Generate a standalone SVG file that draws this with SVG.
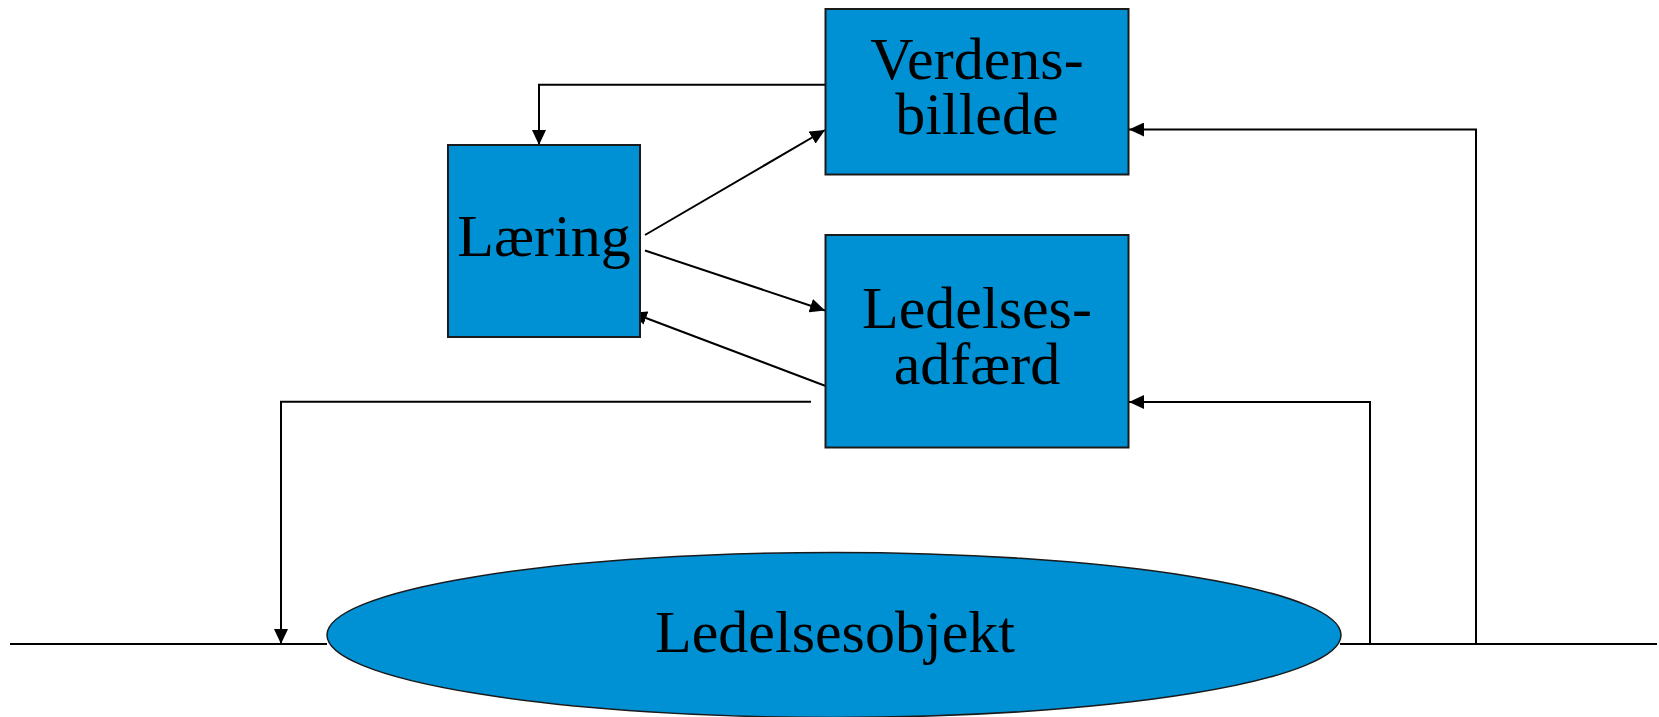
<svg xmlns="http://www.w3.org/2000/svg" width="1659" height="717" viewBox="0 0 1659 717">
<style>
.box{fill:#0091D5;stroke:#1a1a1a;stroke-width:2}
.lbl{font-family:"Liberation Serif","Times New Roman",serif;font-size:60px;fill:#000;text-anchor:middle}
.conn{fill:none;stroke:#000;stroke-width:2}
</style>
<defs>
<marker id="arr" viewBox="0 0 15 14" refX="15" refY="7" markerWidth="15" markerHeight="14" markerUnits="userSpaceOnUse" orient="auto">
<path d="M0,0 L15,7 L0,14 Z" fill="#000"/>
</marker>
</defs>
<rect width="1659" height="717" fill="#fff"/>
<g id="connectors">
<path class="conn" d="M825,84.7 H539 V145" marker-end="url(#arr)"/>
<path class="conn" d="M645,235 L825,130" marker-end="url(#arr)"/>
<path class="conn" d="M645,250.5 L825,310.5" marker-end="url(#arr)"/>
<path class="conn" d="M825,385.7 L632,312.7" marker-end="url(#arr)"/>
<path class="conn" d="M811,401.7 H281 V644" marker-end="url(#arr)"/>
<path class="conn" d="M10,644 H327"/>
<path class="conn" d="M1340,644 H1657"/>
<path class="conn" d="M1370,644 V402 H1129" marker-end="url(#arr)"/>
<path class="conn" d="M1476,644 V129.5 H1129" marker-end="url(#arr)"/>
</g>
<g id="verdensbillede">
<rect class="box" x="825.5" y="9" width="303" height="165.5"/>
<text class="lbl" x="977" y="79">Verdens-</text>
<text class="lbl" x="977" y="134">billede</text>
</g>
<g id="laering">
<rect class="box" x="448" y="145" width="192" height="192"/>
<text class="lbl" x="544" y="256">Læring</text>
</g>
<g id="ledelsesadfaerd">
<rect class="box" x="825.5" y="235" width="303" height="212.5"/>
<text class="lbl" x="977" y="328">Ledelses-</text>
<text class="lbl" x="977" y="384">adfærd</text>
</g>
<g id="ledelsesobjekt">
<ellipse class="box" cx="834" cy="635" rx="507" ry="82.5" style="stroke-width:1.5"/>
<text class="lbl" x="835" y="652">Ledelsesobjekt</text>
</g>
</svg>
